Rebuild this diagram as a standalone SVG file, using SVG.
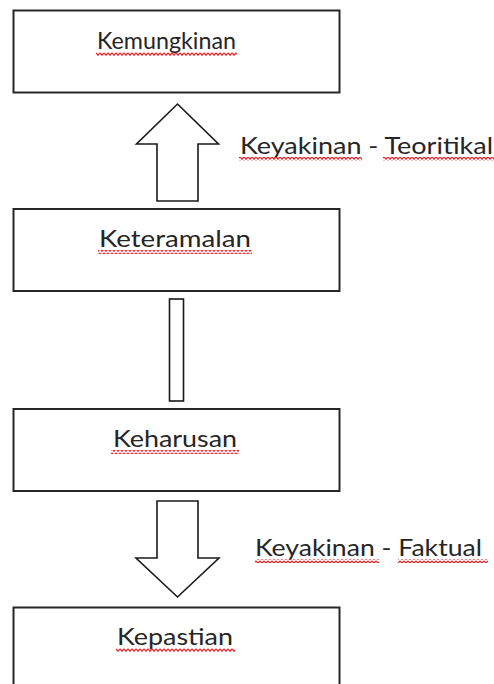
<svg xmlns="http://www.w3.org/2000/svg" width="494" height="684" viewBox="0 0 494 684">
  <defs>
    <pattern id="squiggle" patternUnits="userSpaceOnUse" width="4" height="4">
      <path d="M0,0.8 L2,3.2 L4,0.8" fill="none" stroke="#e8262b" stroke-width="1.3"/>
    </pattern>
  </defs>
  <style>
    .box { fill: #ffffff; stroke: #262626; stroke-width: 2; }
    .arrow { fill: #ffffff; stroke: #1a1a1a; stroke-width: 1.6; stroke-linejoin: miter; }
    .label { font-family: Lato, "Open Sans", "Liberation Sans", sans-serif; font-size: 23px; fill: #262626; }
    .sq { fill: url(#squiggle); }
  </style>
  <rect width="494" height="684" fill="#ffffff"/>

  <g id="connectors">
    <polygon class="arrow" points="177.5,104 218.5,144 198,144 198,201 157,201 157,144 136.5,144"/>
    <rect class="arrow" x="169.5" y="299" width="14" height="102"/>
    <polygon class="arrow" points="157,501 198,501 198,558 219,558 177.5,597 136,558 157,558"/>
  </g>

  <g id="node-kemungkinan">
    <rect class="box" x="13.5" y="10.5" width="326" height="82"/>
    <text class="label" x="97" y="49" textLength="139" lengthAdjust="spacingAndGlyphs">Kemungkinan</text>
    <rect class="sq" x="96" y="52" width="141" height="4"/>
  </g>

  <g id="label-teoritikal">
    <text class="label" x="240" y="154" textLength="253" lengthAdjust="spacingAndGlyphs">Keyakinan - Teoritikal</text>
    <rect class="sq" x="239" y="157" width="123" height="4"/>
    <rect class="sq" x="383" y="157" width="111" height="4"/>
  </g>

  <g id="node-keteramalan">
    <rect class="box" x="13.5" y="209" width="326" height="82"/>
    <text class="label" x="99" y="247" textLength="152" lengthAdjust="spacingAndGlyphs">Keteramalan</text>
    <rect class="sq" x="98" y="250" width="154" height="4"/>
  </g>

  <g id="node-keharusan">
    <rect class="box" x="13.5" y="409" width="326" height="82"/>
    <text class="label" x="113" y="447" textLength="124" lengthAdjust="spacingAndGlyphs">Keharusan</text>
    <rect class="sq" x="111" y="450" width="128" height="4"/>
  </g>

  <g id="label-faktual">
    <text class="label" x="255" y="556" textLength="227" lengthAdjust="spacingAndGlyphs">Keyakinan - Faktual</text>
    <rect class="sq" x="255" y="559" width="124" height="4"/>
    <rect class="sq" x="398" y="559" width="90" height="4"/>
  </g>

  <g id="node-kepastian">
    <path class="box" d="M13.5,690 L13.5,607.5 L339.5,607.5 L339.5,690"/>
    <text class="label" x="117" y="645" textLength="116" lengthAdjust="spacingAndGlyphs">Kepastian</text>
    <rect class="sq" x="116" y="648" width="119" height="4"/>
  </g>
</svg>
